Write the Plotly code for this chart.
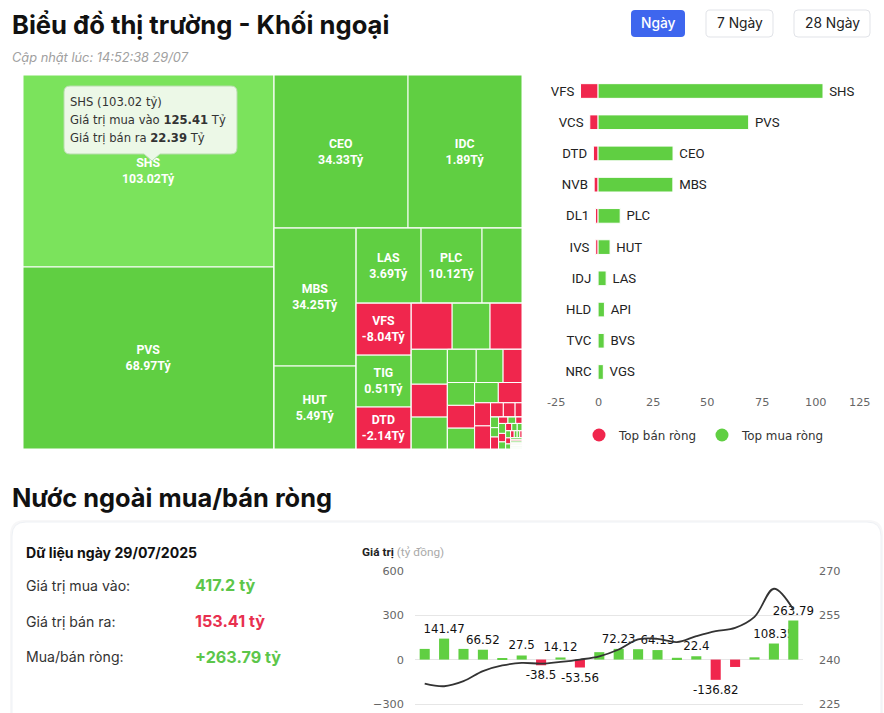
import plotly.graph_objects as go

W, H = 884, 713
GREEN = "#60cf42"
GREEN_HI = "#7be35c"
RED = "#f0264d"

# ---------------- Treemap data (tile size = traded value, colour = net) ----------------
tm_names = ["SHS", "PVS", "CEO", "IDC", "MBS", "HUT", "LAS", "PLC", "API",
            "VFS", "TIG", "DTD", "VCS", "BVS", "NVB", "VGS", "DL1", "NTP",
            "PVI", "TNG", "IVS", "VC3", "IDJ", "PVC", "DHT", "HLD", "TVC", "NRC",
            "L14", "BCC", "HHC", "SLS", "NBC", "TDN", "MST", "PVB", "DXP",
            "VNR", "TMB", "SCG", "HGM", "KSV", "NET", "DTK", "VIT", "THD",
            "PSD", "IPA", "DVM", "CAP", "VMC", "EVS", "AMV", "BAB", "TAR", "HAD",
            "ONE", "KLF", "SD5", "PGS", "VCC", "HMH", "NHC", "TXM", "PTI"]
tm_value = [48192, 45682, 20502, 17442, 11316, 6806, 4875, 4575, 3000,
            2860, 2860, 2310, 1886, 1748, 1472, 1260, 1188, 1152,
            957, 891, 627, 621, 621, 567, 480, 480, 368, 368,
            182, 168, 98, 85, 75, 96, 60, 50, 40,
            70, 60, 50, 45, 40, 35, 35, 30, 25,
            25, 20, 18, 15, 20, 18, 16, 14, 12, 10,
            8, 7, 6, 5, 4, 3, 3, 2, 2]
tm_net = [103.02, 68.97, 34.33, 1.89, 34.25, 5.49, 3.69, 10.12, 2.9,
          -8.04, 0.51, -2.14, -3.8, 2.8, -1.8, 2.4, -1.2, 0.9,
          0.8, 0.6, -1.1, 0.5, -0.3, 0.4, 0.35, -0.25, -0.2, -0.15,
          -0.1, -0.1, -0.1, 0.1, 0.1, -0.1, -0.1, 0.1, -0.1,
          0.1, -0.1, 0.1, -0.1, 0.1, 0.1, 0.1, -0.1, 0.1,
          -0.1, 0.1, 0.1, -0.1, 0.1, -0.1, 0.1, 0.1, -0.1, 0.1,
          -0.1, 0.1, 0.1, -0.1, 0.1, 0.1, -0.1, 0.1, 0.1]
# strip (row / column of the squarified layout) each tile belongs to
tm_strip = [1, 1, 2, 2, 3, 3, 4, 4, 4,
            5, 5, 5, 6, 6, 6, 7, 7, 7,
            8, 8, 8, 9, 9, 9, 10, 10, 11, 11,
            12, 12, 12, 13, 13, 13, 14, 14, 14,
            15, 15, 15, 16, 16, 16, 17, 17, 17,
            18, 18, 18, 18, 19, 19, 19, 19, 19, 19,
            19, 19, 19, 19, 19, 19, 19, 19, 19]
tm_labelled = ["SHS", "PVS", "CEO", "IDC", "MBS", "HUT", "LAS", "PLC", "VFS", "TIG", "DTD"]

# ---------------- Top net buy / sell bars ----------------
buy_names = ["SHS", "PVS", "CEO", "MBS", "PLC", "HUT", "LAS", "API", "BVS", "VGS"]
buy_vals = [103.02, 68.97, 34.33, 34.25, 10.12, 5.49, 3.69, 2.9, 2.8, 2.4]
sell_names = ["VFS", "VCS", "DTD", "NVB", "DL1", "IVS", "IDJ", "HLD", "TVC", "NRC"]
sell_vals = [-8.04, -3.8, -2.14, -1.8, -1.2, -1.1, -0.3, -0.25, -0.2, -0.15]
hb_ticks = [-25, 0, 25, 50, 75, 100, 125]

# ---------------- Daily net foreign flow + index ----------------
days = ["02/07", "03/07", "04/07", "07/07", "08/07", "09/07", "10/07", "11/07", "14/07", "15/07",
        "16/07", "17/07", "18/07", "21/07", "22/07", "23/07", "24/07", "25/07", "28/07", "29/07"]
net_flow = [72, 141.47, 72, 66.52, 5, 27.5, -38.5, 14.12, -53.56, 50,
            72.23, 70, 64.13, 12, 22.4, -136.82, -50, 15, 108.35, 263.79]
show_label = [False, True, False, True, False, True, True, True, True, False,
              True, False, True, False, True, True, False, False, True, True]
index_vals = [231.9, 231.0, 232.7, 236.1, 238.0, 238.9, 238.6, 239.2, 240.0, 241.1,
              243.4, 246.8, 247.0, 245.9, 247.9, 249.6, 250.7, 254.4, 263.9, 256.9]
left_ticks = [-300, 0, 300, 600]
right_ticks = [225, 240, 255, 270]


def fx(x):
    return x / W


def fy(y):
    return 1 - y / H


def P(x, y):
    return f"{fx(x):.5f},{fy(y):.5f}"


def rrect(x0, y0, x1, y1, r):
    return (f"M {P(x0 + r, y0)} L {P(x1 - r, y0)} Q {P(x1, y0)} {P(x1, y0 + r)} "
            f"L {P(x1, y1 - r)} Q {P(x1, y1)} {P(x1 - r, y1)} L {P(x0 + r, y1)} "
            f"Q {P(x0, y1)} {P(x0, y1 - r)} L {P(x0, y0 + r)} Q {P(x0, y0)} {P(x0 + r, y0)} Z")


def tip_path(x0, y0, x1, y1, r, tx, th, tw):
    return (f"M {P(x0 + r, y0)} L {P(x1 - r, y0)} Q {P(x1, y0)} {P(x1, y0 + r)} "
            f"L {P(x1, y1 - r)} Q {P(x1, y1)} {P(x1 - r, y1)} "
            f"L {P(tx + tw, y1)} L {P(tx, y1 + th)} L {P(tx - tw, y1)} L {P(x0 + r, y1)} "
            f"Q {P(x0, y1)} {P(x0, y1 - r)} L {P(x0, y0 + r)} Q {P(x0, y0)} {P(x0 + r, y0)} Z")


def axis_range(v_a, px_a, v_b, px_b, px_top, px_bot):
    k = (px_b - px_a) / (v_a - v_b)
    return [v_a - (px_bot - px_a) / k, v_a + (px_a - px_top) / k]


fig = go.Figure()

# ---- Treemap: nested strips, alternating dice / slice like the original layout ----
n_strips = max(tm_strip)
ids, labels, parents, values, colors, texts = ["R0"], [""], [""], [0], [GREEN], [""]
for k in range(1, n_strips + 1):
    ids.append(f"S{k}"); labels.append(""); parents.append(f"R{k-1}"); values.append(0)
    colors.append(GREEN); texts.append("")
    if k < n_strips:
        ids.append(f"R{k}"); labels.append(""); parents.append(f"R{k-1}"); values.append(0)
        colors.append(GREEN); texts.append("")
for n, v, net, s in zip(tm_names, tm_value, tm_net, tm_strip):
    ids.append(n); labels.append(n); parents.append(f"S{s}"); values.append(v)
    colors.append(GREEN_HI if n == "SHS" else (GREEN if net >= 0 else RED))
    texts.append(f"{n}<br>{net:.2f}Tỷ" if n in tm_labelled else "")

fig.add_trace(go.Treemap(
    ids=ids, labels=labels, parents=parents, values=values,
    text=texts, textinfo="text", sort=False,
    marker=dict(colors=colors, line=dict(color="white", width=1),
                pad=dict(t=0, l=0, r=0, b=0)),
    tiling=dict(packing="slice-dice", pad=0),
    pathbar=dict(visible=False),
    domain=dict(x=[fx(23), fx(522)], y=[fy(449), fy(75)]),
    textfont=dict(family="Roboto", size=12.3, color="white", weight="bold"),
    textposition="middle center",
    hoverinfo="skip",
))

# Horizontal bars
fig.add_trace(go.Bar(
    y=buy_names, x=sell_vals, orientation="h", width=0.47,
    marker=dict(color=RED, line=dict(color="white", width=1)),
    text=[s + " " for s in sell_names], textposition="outside", constraintext="none",
    outsidetextfont=dict(family="Roboto", size=13.2, color="#222"),
    cliponaxis=False, showlegend=False, hoverinfo="skip", xaxis="x", yaxis="y"))
fig.add_trace(go.Bar(
    y=buy_names, x=buy_vals, orientation="h", width=0.47,
    marker=dict(color=GREEN, line=dict(color="white", width=1)),
    text=[" " + s for s in buy_names], textposition="outside", constraintext="none",
    outsidetextfont=dict(family="Roboto", size=13.2, color="#222"),
    cliponaxis=False, showlegend=False, hoverinfo="skip", xaxis="x", yaxis="y"))
for nm, col in [("Top bán ròng", RED), ("Top mua ròng", GREEN)]:
    fig.add_trace(go.Scatter(x=[None], y=[None], mode="markers", name=nm,
                             marker=dict(color=col, size=13), xaxis="x", yaxis="y"))

# Bottom combo chart
bar_cols = [GREEN if v >= 0 else RED for v in net_flow]
bar_txt = [f"{v:g}" if s else "" for v, s in zip(net_flow, show_label)]
fig.add_trace(go.Bar(
    x=days, y=net_flow, width=0.52, marker=dict(color=bar_cols, line=dict(width=0)),
    text=bar_txt, textposition="outside", constraintext="none", cliponaxis=False,
    outsidetextfont=dict(family="DejaVu Sans", size=11.8, color="#111"),
    showlegend=False, hoverinfo="skip", xaxis="x2", yaxis="y2"))
fig.add_trace(go.Scatter(
    x=days, y=index_vals, mode="lines", line=dict(color="#333", width=1.8, shape="spline"),
    showlegend=False, hoverinfo="skip", xaxis="x2", yaxis="y3"))

tickfont = dict(family="DejaVu Sans", size=11.3, color="#666")

shapes = [
    dict(type="path", path=rrect(10, 520, 883, 760, 15), xref="paper", yref="paper",
         fillcolor="rgba(30,40,60,0.035)", line=dict(width=0), layer="below"),
    dict(type="path", path=rrect(12, 522, 881, 760, 14), xref="paper", yref="paper",
         fillcolor="white", line=dict(color="#eef1f5", width=1), layer="below"),
    dict(type="path", path=rrect(631, 10, 685, 37, 4), xref="paper", yref="paper",
         fillcolor="#3e66ee", line=dict(width=0), layer="below"),
    dict(type="path", path=rrect(706, 10, 773, 37, 4), xref="paper", yref="paper",
         fillcolor="white", line=dict(color="#e1e3e8", width=1), layer="below"),
    dict(type="path", path=rrect(794, 10, 870, 37, 4), xref="paper", yref="paper",
         fillcolor="white", line=dict(color="#e1e3e8", width=1), layer="below"),
    dict(type="path", path=tip_path(64, 86, 237, 154, 6, 152, 7, 8), xref="paper", yref="paper",
         fillcolor="#ecf8e7", line=dict(color="#b8dcad", width=1), layer="above"),
]

ann = []


def A(x, y, text, size, color="#222", family="Inter", xanchor="left", weight=None):
    f = dict(family=family, size=size, color=color)
    if weight:
        f["weight"] = weight
    ann.append(dict(x=fx(x), y=fy(y), xref="paper", yref="paper", text=text, showarrow=False,
                    xanchor=xanchor, yanchor="middle", font=f))


A(10, 24, "<b>Biểu đồ thị trường - Khối ngoại</b>", 25.6, "#111")
A(10, 57, "<i>Cập nhật lúc: 14:52:38 29/07</i>", 12.8, "#a0a0a0")
A(658, 23.5, "Ngày", 13.8, "white", xanchor="center", weight=500)
A(739.5, 23.5, "7 Ngày", 13.8, "#222", xanchor="center")
A(832, 23.5, "28 Ngày", 13.8, "#222", xanchor="center")
A(10, 497, "<b>Nước ngoài mua/bán ròng</b>", 25.4, "#111")
A(24, 552, "<b>Dữ liệu ngày 29/07/2025</b>", 14.1, "#111")
A(24, 585, "Giá trị mua vào:", 14.1, "#333")
A(24, 621, "Giá trị bán ra:", 14.1, "#333")
A(24, 657, "Mua/bán ròng:", 14.1, "#333")
A(193, 585, "<b>417.2 tỷ</b>", 16.2, "#5cc64a")
A(193, 621, "<b>153.41 tỷ</b>", 16.2, "#e8304f")
A(193, 657, "<b>+263.79 tỷ</b>", 16.2, "#5cc64a")
A(360, 552, "<b>Giá trị</b> <span style='color:#aaa'>(tỷ đồng)</span>", 11.8, "#222",
  family="Roboto")
A(68, 102, "SHS (103.02 tỷ)", 11.6, "#333", family="DejaVu Sans")
A(68, 120, "Giá trị mua vào <b>125.41</b> Tỷ", 11.6, "#333", family="DejaVu Sans")
A(68, 138, "Giá trị bán ra <b>22.39</b> Tỷ", 11.6, "#333", family="DejaVu Sans")

# value-axis labels of the horizontal bar chart (end labels pulled inwards like the original)
for t in hb_ticks:
    shift = 12 if t == hb_ticks[0] else (-11.5 if t == hb_ticks[-1] else 0)
    ann.append(dict(x=t, y=fy(402), xref="x", yref="paper", text=str(t), showarrow=False,
                    xanchor="center", yanchor="middle", xshift=shift, font=tickfont))

y2_range = axis_range(600, 570.7, -300, 704, 570, H)
y3_range = axis_range(270, 570.7, 225, 704, 570, H)

fig.update_layout(
    width=W, height=H, margin=dict(l=0, r=0, t=0, b=0, autoexpand=False),
    paper_bgcolor="white", plot_bgcolor="rgba(0,0,0,0)",
    barmode="overlay", shapes=shapes, annotations=ann,
    font=dict(family="DejaVu Sans"),
    legend=dict(orientation="h", x=fx(704), xanchor="center", y=fy(435), yanchor="middle",
                font=dict(family="DejaVu Sans", size=11.9, color="#333"),
                bgcolor="rgba(0,0,0,0)"),
    xaxis=dict(domain=[fx(543.5), fx(871)], range=[-25, 125], tickvals=hb_ticks,
               showticklabels=False, showgrid=False, zeroline=False, showline=False,
               ticks="", anchor="y", fixedrange=True, automargin=False),
    yaxis=dict(domain=[fy(387.6), fy(75.4)], type="category", range=[9.5, -0.5],
               showticklabels=False, showgrid=False, zeroline=False, showline=False,
               anchor="x", fixedrange=True, automargin=False),
    xaxis2=dict(domain=[fx(415), fx(803)], type="category", range=[-0.5, 19.5],
                showticklabels=False, showgrid=False, zeroline=False, showline=False,
                anchor="y2", automargin=False),
    yaxis2=dict(domain=[0, fy(570)], range=y2_range, tickvals=left_ticks,
                showgrid=True, gridcolor="#e6e6e6", gridwidth=1, zeroline=False,
                tickfont=tickfont, ticklabelstandoff=10, anchor="x2", automargin=False),
    yaxis3=dict(overlaying="y2", side="right", range=y3_range, tickvals=right_ticks,
                showgrid=False, zeroline=False, tickfont=tickfont, ticklabelstandoff=15,
                anchor="x2", automargin=False),
)

fig.write_html("out.html", config={"displayModeBar": False})
